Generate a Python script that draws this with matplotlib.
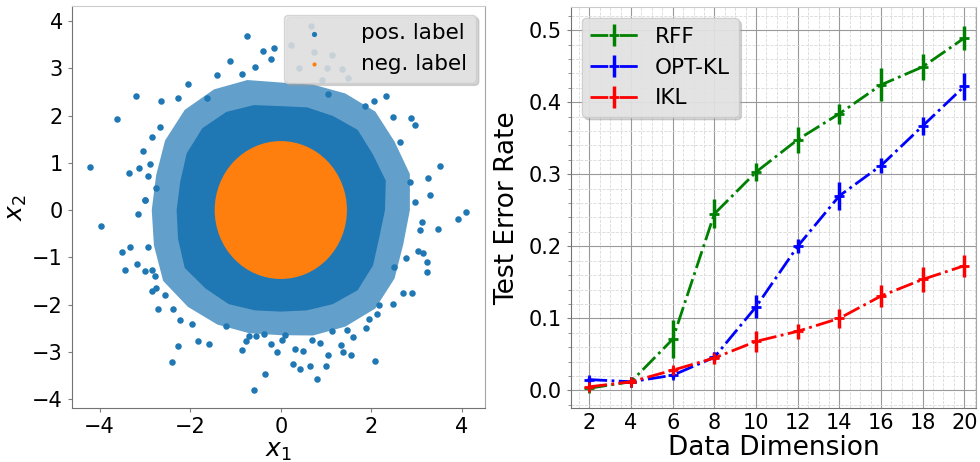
import numpy as np
import matplotlib
matplotlib.use('Agg')
import matplotlib.pyplot as plt
from matplotlib.patches import Ellipse
from matplotlib.ticker import AutoMinorLocator

# ---- left panel: sparse positive points ----
pos_x = [-0.75, -4.21, -3.62, -3.20, -2.06, -1.13, -0.40, -0.15, -2.65, -2.28,
         -3.05, -3.36, -3.13, -1.41, -2.84, -2.89, -0.58, -0.21, -0.86, -1.64,
         -2.93, -2.67, -3.00, -3.98, -3.15, -2.76, -2.99,
         3.52, 2.87, 2.97, 2.48, 2.33, 2.06, 1.86, 2.64, 3.25, 2.86, 3.30, 2.97,
         1.05, 1.48, 0.67, 0.23, 0.73, 1.35, 1.02, 0.41, 0.90, 1.14, 4.09, 3.92,
         -3.51, -3.34, -3.44, -3.18, -2.93, -2.99, -2.84, -2.78, -2.85, -2.75,
         -2.56, -2.72, -2.37, -2.23, -1.95, -2.26, -2.41, -1.82, -1.58, -0.86,
         -0.77, -0.34, -0.59, -0.21, -0.08, -0.55, -0.71, -0.38, -1.21,
         3.46, 3.11, 3.07, 3.22, 3.23, 3.15, 2.89, 2.70, 2.48, 2.17, 2.13, 1.94,
         1.89, 1.59, 1.47, 2.08, 1.56, 1.38, 1.33, 1.04, 1.00, 0.79, 0.64, 0.43,
         0.27, 0.49, 0.31, 0.87, 0.68, 1.13, 0.10, 0.03, 2.76, 2.50, 3.04]
pos_y = [3.69, 0.92, 1.92, 2.41, 2.67, 3.16, 3.37, 3.44, 2.30, 2.37,
         1.25, 0.78, 0.89, 2.85, 1.54, 0.97, 3.02, 3.20, 2.88, 2.38,
         0.73, 1.75, 0.22, -0.34, -0.08, 0.46, 0.21,
         0.94, 1.94, 1.80, 1.98, 2.42, 2.30, 2.20, 1.44, 0.68, 0.60, 0.31, 0.17,
         2.45, 2.79, 3.90, 3.49, 3.34, 2.99, 3.00, 3.00, 2.76, 3.29, -0.05, -0.18,
         -0.89, -0.78, -1.28, -1.15, -0.79, -1.30, -1.28, -1.40, -1.71, -1.66,
         -1.79, -2.09, -2.10, -2.32, -2.41, -2.88, -3.21, -2.78, -2.83, -2.97,
         -2.78, -3.48, -3.82, -2.83, -3.01, -2.66, -2.67, -2.62, -2.46,
         -0.40, -0.25, -0.42, -1.10, -1.31, -0.92, -1.75, -1.75, -1.98, -2.01, -2.21, -2.30,
         -2.50, -2.68, -2.55, -3.20, -3.07, -3.00, -2.85, -3.06, -3.31, -3.57, -3.31, -3.36,
         -3.26, -2.99, -2.94, -2.81, -2.75, -2.56, -2.64, -2.76, -1.01, -1.21, -0.86]

# outline of the blue cloud (radius at each angle, degrees):
# solid core and the speckled fringe around it
cloud_angle = [0, 15, 30, 45, 60, 75, 90, 105, 120, 135, 150, 165,
               180, 195, 210, 225, 240, 255, 270, 285, 300, 315, 330, 345, 360]
core_r = [2.3, 2.4, 2.35, 2.4, 2.3, 2.25, 2.2, 2.3, 2.4, 2.45, 2.4, 2.3,
          2.3, 2.35, 2.45, 2.35, 2.3, 2.2, 2.15, 2.2, 2.3, 2.4, 2.35, 2.25, 2.3]
fringe_r = [2.85, 2.95, 2.9, 2.95, 2.85, 2.75, 2.7, 2.85, 2.95, 3.0, 2.95, 2.85,
            2.85, 2.9, 3.0, 2.9, 2.8, 2.7, 2.65, 2.75, 2.85, 2.95, 2.9, 2.8, 2.85]
neg_radius = 1.46   # orange disc (threshold sqrt(2) plus marker size)

# ---- right panel ----
dims = [2, 4, 6, 8, 10, 12, 14, 16, 18, 20]
rff = [0.003, 0.012, 0.071, 0.245, 0.303, 0.348, 0.384, 0.424, 0.449, 0.489]
rff_err = [0.002, 0.002, 0.026, 0.02, 0.013, 0.018, 0.014, 0.023, 0.018, 0.017]
optkl = [0.015, 0.012, 0.021, 0.046, 0.116, 0.200, 0.270, 0.312, 0.367, 0.422]
optkl_err = [0.004, 0.003, 0.004, 0.004, 0.016, 0.01, 0.019, 0.011, 0.013, 0.019]
ikl = [0.005, 0.012, 0.028, 0.045, 0.068, 0.082, 0.100, 0.131, 0.154, 0.173]
ikl_err = [0.002, 0.002, 0.004, 0.008, 0.015, 0.01, 0.013, 0.015, 0.017, 0.015]

BLUE = '#1f77b4'
ORANGE = '#ff7f0e'

fig = plt.figure(figsize=(9.8, 4.62), dpi=100)
ax1 = fig.add_axes([0.0735, 0.116, 0.421, 0.871])
ax2 = fig.add_axes([0.5827, 0.116, 0.413, 0.868])

# left
ang = np.deg2rad(cloud_angle)
ax1.fill(np.array(fringe_r) * np.cos(ang), np.array(fringe_r) * np.sin(ang),
         color=BLUE, alpha=0.7, lw=0, zorder=1)
ax1.fill(np.array(core_r) * np.cos(ang), np.array(core_r) * np.sin(ang),
         color=BLUE, lw=0, zorder=1)
ax1.scatter(pos_x, pos_y, s=22, color=BLUE, lw=0, zorder=2, label='pos. label')
ax1.add_patch(Ellipse((0, 0), 2 * neg_radius, 2 * neg_radius, color=ORANGE, lw=0, zorder=3))
ax1.scatter([], [], s=14, color=ORANGE, lw=0, label='neg. label')
ax1.set_xlim(-4.61, 4.5)
ax1.set_ylim(-4.2, 4.32)
ax1.set_xticks([-4, -2, 0, 2, 4])
ax1.set_yticks([-4, -3, -2, -1, 0, 1, 2, 3, 4])
ax1.set_xlabel('$x_1$', fontsize=18, labelpad=1)
ax1.set_ylabel('$x_2$', fontsize=18, labelpad=2)
ax1.legend(loc='upper right', fontsize=15.5, facecolor='#e5e5e5', framealpha=0.8,
           edgecolor='0.8', shadow={'color': '0.6', 'alpha': 0.4},
           handletextpad=1.2, borderaxespad=0.4, markerscale=0.8)

# right
ax2.errorbar(dims, rff, yerr=rff_err, color='g', ls='-.', lw=2, marker='+',
             ms=7, mew=2, elinewidth=2.5, label='RFF')
ax2.errorbar(dims, optkl, yerr=optkl_err, color='b', ls='-.', lw=2, marker='+',
             ms=7, mew=2, elinewidth=2.5, label='OPT-KL')
ax2.errorbar(dims, ikl, yerr=ikl_err, color='r', ls='-.', lw=2, marker='+',
             ms=7, mew=2, elinewidth=2.5, label='IKL')
ax2.set_xlim(1.12, 20.55)
ax2.set_ylim(-0.025, 0.5315)
ax2.set_xticks(dims)
ax2.set_yticks([0.0, 0.1, 0.2, 0.3, 0.4, 0.5])
ax2.xaxis.set_minor_locator(AutoMinorLocator(4))
ax2.yaxis.set_minor_locator(AutoMinorLocator(5))
ax2.grid(which='major', color='0.6', lw=0.8)
ax2.grid(which='minor', color='0.85', lw=0.6, ls='--')
ax2.set_axisbelow(True)
ax2.set_xlabel('Data Dimension', fontsize=19, labelpad=1)
ax2.set_ylabel('Test Error Rate', fontsize=19, labelpad=6)
ax2.legend(loc='upper left', fontsize=15.5, facecolor='#e5e5e5', framealpha=0.9,
           edgecolor='0.8', shadow={'color': '0.6', 'alpha': 0.4},
           handlelength=2.2, borderaxespad=0.5)

for ax in (ax1, ax2):
    ax.tick_params(labelsize=15, color='0.5', length=3)
    ax.tick_params(which='minor', color='0.5', length=2)
    ax.spines['left'].set_color('0.45')
    ax.spines['bottom'].set_color('0.45')
    ax.spines['top'].set_color('0.8')
    ax.spines['right'].set_color('0.65')
ax2.tick_params(axis='x', which='both', length=0)

fig.savefig('out.png', dpi=100)
